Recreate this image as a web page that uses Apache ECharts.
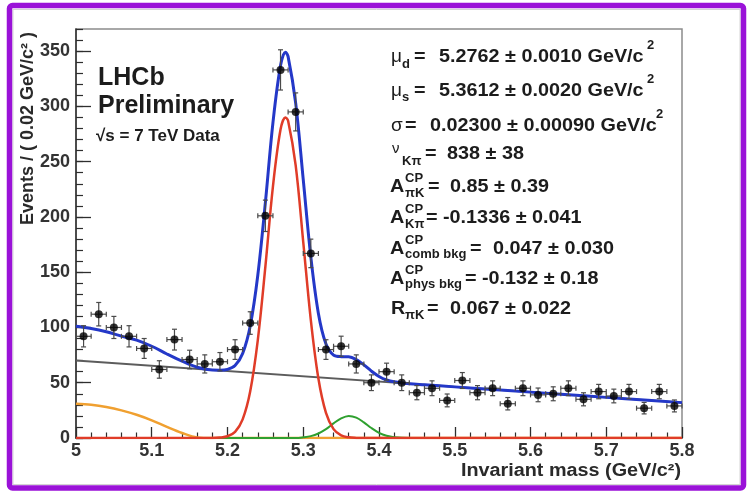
<!DOCTYPE html>
<html><head><meta charset="utf-8">
<script src="https://cdn.jsdelivr.net/npm/echarts@6/dist/echarts.min.js"></script>
<style>html,body{margin:0;padding:0;background:#fff}#c{width:749px;height:494px}</style>
</head><body><div id="c"></div>
<script>
// ---- data ----
const massX = [5.01,5.03,5.05,5.07,5.09,5.11,5.13,5.15,5.17,5.19,5.21,5.23,5.25,5.27,5.29,5.31,5.33,5.35,5.37,5.39,
               5.41,5.43,5.45,5.47,5.49,5.51,5.53,5.55,5.57,5.59,5.61,5.63,5.65,5.67,5.69,5.71,5.73,5.75,5.77,5.79];
const counts = [92,112,100,92,81,62,89,71,67,69,80,104,201,333,295,167,80,83,67,50,
                60,50,41,45,34,52,41,45,31,45,39,40,45,35,42,38,42,27,42,29];
const countErr = [9.6,10.6,10,9.6,9,7.9,9.4,8.4,8.2,8.3,8.9,10.2,14.2,18.2,17.2,12.9,8.9,9.1,8.2,7.1,
                  7.7,7.1,6.4,6.7,5.8,7.2,6.4,6.7,5.6,6.7,6.2,6.3,6.7,5.9,6.5,6.2,6.5,5.2,6.5,5.4];
const binHalfWidth = 0.01;

const curveX = [5.00,5.02,5.04,5.06,5.08,5.10,5.12,5.14,5.16,5.18,
                5.19,5.20,5.21,5.22,5.23,5.24,5.25,5.26,5.27,5.2765,5.28,5.29,5.30,5.31,5.32,5.33,5.34,5.35,5.36,5.37,5.38,5.39,5.40,5.41,5.42,
                5.44,5.46,5.50,5.55,5.60,5.65,5.70,5.75,5.80];
const totalFit = [101,99,96.1,92.2,88.5,83,76,69.5,64,61.5,
                  61.4,62.1,65.6,76.5,101.4,147.2,213,285.3,337,349,345,303,233.7,163.7,112.7,85,75,73.6,73.5,71,66.2,60.5,55.7,52.5,50.8,
                  49.1,48.15,46.25,43.9,41.5,39.1,36.75,34.4,32];
const signalFit = [0,0,0,0,0,0,0,0,0,0,
                   0.4,1.6,5.6,16.9,42.3,88.6,155,227.6,279,290,287,246.6,177.3,106.7,53.8,22.7,8,2.4,0.6,0.1,0,0,0,0,0,
                   0,0,0,0,0,0,0,0,0];
const bsFit = [0,0,0,0,0,0,0,0,0,0,
               0,0,0,0,0,0,0,0,0,0,0,0,0.6,1.7,4.1,8,13.2,17.8,20,18.5,14.2,9,4.7,2,0.7,
               0,0,0,0,0,0,0,0,0];
const physBkg = [31,30,28,25,21,16,10,4.5,0.5,0,
                 0,0,0,0,0,0,0,0,0,0,0,0,0,0,0,0,0,0,0,0,0,0,0,0,0,
                 0,0,0,0,0,0,0,0,0];
const combX = [5.0, 5.8];
const combY = [70, 32];

const xTickLabels = ['5','5.1','5.2','5.3','5.4','5.5','5.6','5.7','5.8'];
const yTickLabels = ['0','50','100','150','200','250','300','350'];

// ---- chart ----
const FF = '"Liberation Sans", Arial, Helvetica, sans-serif';
const TXT = '#1c1c1c';
const zip = (xs, ys) => xs.map((x, i) => [x, ys[i]]);

function T(x, base, text, size, opts) {
  opts = opts || {};
  return {
    type: 'text', x: x, y: base - 0.35 * size, z: 100,
    scaleX: opts.sx || 1, rotation: opts.rot || 0,
    style: {
      text: text, fontSize: size, fontFamily: FF,
      fontWeight: opts.w || 'bold', fill: opts.c || TXT,
      align: opts.a || 'left', verticalAlign: 'middle'
    }
  };
}
const S = 1.1;
const M = 18, SM = 13;
const texts = [
  // LHCb label
  T(98, 87, 'LHCb', 25),
  T(98, 115, 'Preliminary', 25),
  T(96, 142, '√s = 7 TeV Data', 17),
  // fit results
  T(391, 63, 'μ', 19, {w: 'normal'}), T(402, 69, 'd', SM), T(414, 63, '=', M, {sx: S}),
  T(439, 63, '5.2762 ± 0.0010 GeV/c', M, {sx: S}), T(647, 50, '2', SM),
  T(391, 97, 'μ', 19, {w: 'normal'}), T(402, 102, 's', SM), T(414, 97, '=', M, {sx: S}),
  T(439, 97, '5.3612 ± 0.0020 GeV/c', M, {sx: S}), T(647, 84, '2', SM),
  T(391, 132, 'σ', 19, {w: 'normal'}), T(405, 132, '=', M, {sx: S}),
  T(430, 132, '0.02300 ± 0.00090 GeV/c', M, {sx: S}), T(656, 119, '2', SM),
  T(392, 154, 'ν', 15, {w: 'normal'}), T(402, 166, 'Kπ', SM), T(425, 160, '=', M, {sx: S}),
  T(447, 160, '838 ± 38', M, {sx: S}),
  T(390, 193, 'A', M, {sx: S}), T(405, 183, 'CP', SM), T(405, 198, 'πK', SM), T(428, 193, '=', M, {sx: S}),
  T(450, 193, '0.85 ± 0.39', M, {sx: S}),
  T(390, 224, 'A', M, {sx: S}), T(405, 214, 'CP', SM), T(405, 229, 'Kπ', SM), T(426, 224, '=', M, {sx: S}),
  T(443, 224, '-0.1336 ± 0.041', M, {sx: S}),
  T(390, 255, 'A', M, {sx: S}), T(405, 245, 'CP', SM), T(405, 259, 'comb bkg', SM), T(470, 255, '=', M, {sx: S}),
  T(493, 255, '0.047 ± 0.030', M, {sx: S}),
  T(390, 285, 'A', M, {sx: S}), T(405, 275, 'CP', SM), T(405, 289, 'phys bkg', SM), T(465, 285, '=', M, {sx: S}),
  T(482, 285, '-0.132 ± 0.18', M, {sx: S}),
  T(391, 315, 'R', M, {sx: S}), T(405, 320, 'πK', SM), T(427, 315, '=', M, {sx: S}),
  T(450, 315, '0.067 ± 0.022', M, {sx: S}),
  // axis titles
  T(681, 477, 'Invariant mass (GeV/c²)', 18, {a: 'right', sx: S, c: '#2a2a2a'}),
  {type: 'text', x: 28, y: 32, rotation: Math.PI / 2, z: 100,
   style: {text: 'Events / ( 0.02 GeV/c² )', fontSize: 18, fontFamily: FF, fontWeight: 'bold',
           fill: '#2a2a2a', align: 'right', verticalAlign: 'middle'}},
  // frame decorations
  {type: 'rect', z: 90, shape: {x: 13, y: 9.5, width: 727, height: 475}, style: {fill: 'none', stroke: '#d4d4d4', lineWidth: 1}},
  {type: 'rect', z: 95, shape: {x: 9.5, y: 5.5, width: 734, height: 482.5, r: 3}, style: {fill: 'none', stroke: '#9a12d8', lineWidth: 5.5}}
];

function errItem(params, api) {
  const x = api.value(0), y = api.value(1), e = api.value(2);
  const c = api.coord([x, y]);
  const t = api.coord([x, y + e]);
  const b = api.coord([x, y - e]);
  const l = api.coord([x - binHalfWidth, y]);
  const r = api.coord([x + binHalfWidth, y]);
  const st = {stroke: '#4a4a4a', lineWidth: 1.2};
  const cap = 2.5;
  return {type: 'group', children: [
    {type: 'line', shape: {x1: c[0], y1: t[1], x2: c[0], y2: b[1]}, style: st},
    {type: 'line', shape: {x1: c[0] - cap, y1: t[1], x2: c[0] + cap, y2: t[1]}, style: st},
    {type: 'line', shape: {x1: c[0] - cap, y1: b[1], x2: c[0] + cap, y2: b[1]}, style: st},
    {type: 'line', shape: {x1: l[0], y1: c[1], x2: r[0], y2: c[1]}, style: st},
    {type: 'line', shape: {x1: l[0], y1: c[1] - cap, x2: l[0], y2: c[1] + cap}, style: st},
    {type: 'line', shape: {x1: r[0], y1: c[1] - cap, x2: r[0], y2: c[1] + cap}, style: st}
  ]};
}

const axisColor = '#2e2e2e';
const labelStyle = {fontFamily: FF, fontWeight: 'bold', fontSize: 18, color: '#333'};
const curve = (name, xs, ys, color, width, z) => ({
  name: name, type: 'line', data: zip(xs, ys), smooth: 0.35, showSymbol: false, symbol: 'none',
  lineStyle: {color: color, width: width}, z: z, silent: true
});

const chart = echarts.init(document.getElementById('c'), null, {renderer: 'canvas'});
chart.setOption({
  animation: false,
  backgroundColor: '#fff',
  grid: {left: 76, right: 67, top: 29, bottom: 56, show: true, borderColor: '#8c8c8c', borderWidth: 1.5, backgroundColor: 'transparent'},
  xAxis: {
    type: 'value', min: 5, max: 5.8, interval: 0.1,
    axisLine: {show: true, onZero: false, lineStyle: {color: axisColor, width: 1.5}},
    axisTick: {show: true, inside: true, length: 11, lineStyle: {color: axisColor, width: 1.3}},
    minorTick: {show: true, splitNumber: 5, length: 5.5, lineStyle: {color: axisColor, width: 1.2}},
    splitLine: {show: false}, minorSplitLine: {show: false},
    axisLabel: Object.assign({margin: 4, formatter: v => xTickLabels[Math.round((v - 5) * 10)] || ''}, labelStyle)
  },
  yAxis: [{
    type: 'value', min: 0, max: 370, interval: 50,
    axisLine: {show: true, onZero: false, lineStyle: {color: axisColor, width: 1.5}},
    axisTick: {show: true, inside: true, length: 15, lineStyle: {color: axisColor, width: 1.3}},
    splitLine: {show: false},
    axisLabel: Object.assign({margin: 6, showMaxLabel: false, formatter: v => yTickLabels[Math.round(v / 50)] || ''}, labelStyle)
  }, {
    type: 'value', min: 0, max: 370, interval: 10, position: 'left',
    axisLine: {show: false},
    axisTick: {show: true, inside: true, length: 7, lineStyle: {color: axisColor, width: 1.2}},
    splitLine: {show: false}, axisLabel: {show: false}
  }],
  series: [
    curve('comb', combX, combY, '#5c5c5c', 2, 2),
    curve('phys', curveX, physBkg, '#f0a030', 2.5, 3),
    curve('bs', curveX, bsFit, '#2fa02f', 2, 4),
    curve('signal', curveX, signalFit, '#e03c28', 2.5, 5),
    curve('total', curveX, totalFit, '#2438c8', 3, 6),
    {type: 'custom', renderItem: errItem, data: massX.map((x, i) => [x, counts[i], countErr[i]]),
     encode: {x: 0, y: 1}, z: 7, silent: true},
    {type: 'scatter', data: zip(massX, counts), symbol: 'circle', symbolSize: 8,
     itemStyle: {color: '#000'}, z: 8, silent: true}
  ],
  graphic: {elements: texts}
});
</script>
</body></html>
